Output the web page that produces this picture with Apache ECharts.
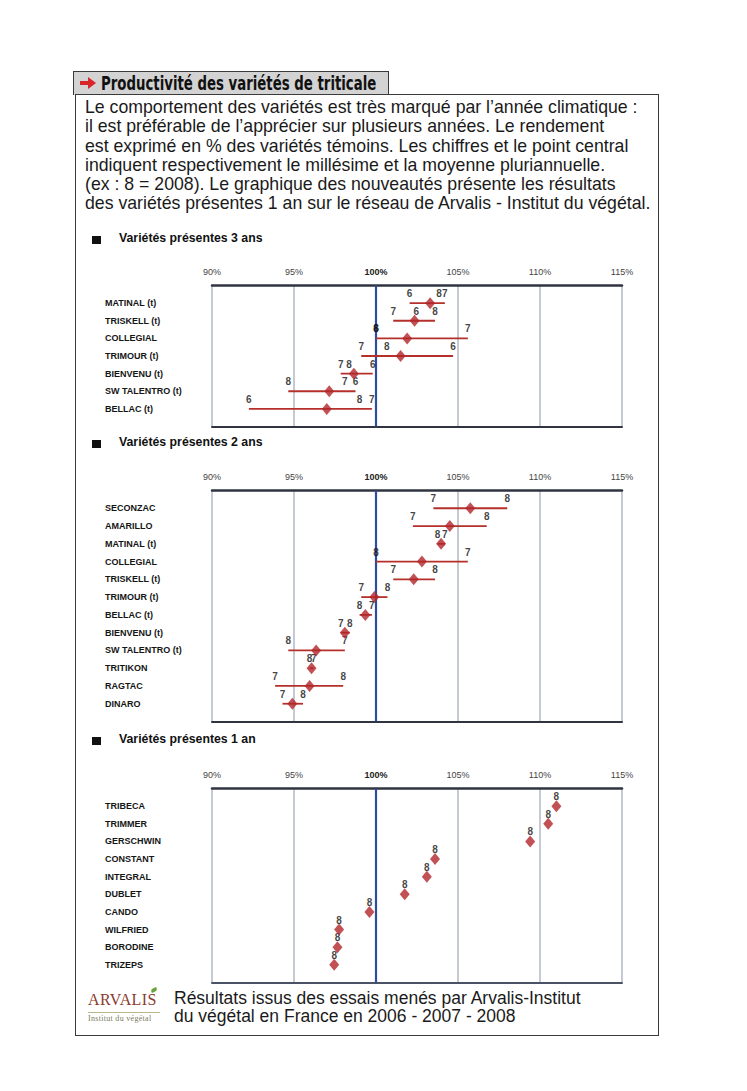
<!DOCTYPE html>
<html>
<head>
<meta charset="utf-8">
<script src="https://cdn.jsdelivr.net/npm/echarts@6/dist/echarts.min.js"></script>
<style>
  html, body { margin:0; padding:0; background:#fff; }
  #page { position:relative; width:747px; height:1091px; background:#fff; overflow:hidden; }
  #chart { position:absolute; left:0; top:0; width:747px; height:1091px; }
  .ov { position:absolute; white-space:nowrap; font-family:"Liberation Sans", Arial, Helvetica, sans-serif; color:#1a1a1a; }
  #box { position:absolute; left:75px; top:94px; width:584px; height:942px; border:1.5px solid #3a3a3a; box-sizing:border-box; }
  #tab { position:absolute; left:73px; top:71px; width:316px; height:24px; background:#d3d3d3; border:1.5px solid #3a3a3a; border-bottom:none; box-sizing:border-box; }
  #arrow { position:absolute; left:80px; top:77px; }
  #title { left:101px; top:71px; font-family:"Liberation Sans Narrow","DejaVu Sans Condensed","Liberation Sans",sans-serif; font-weight:bold; font-size:20px; line-height:24px; color:#111; transform-origin:0 50%; }
  #para { left:85px; top:98px; font-size:17.7px; line-height:19.3px; transform-origin:0 0; }
  .head { font-size:12.3px; font-weight:bold; color:#111; }
  .sq { position:absolute; width:9px; height:8px; background:#111; }
  #foot { left:174px; top:989px; font-size:17.5px; line-height:18px; transform-origin:0 0; }
  #logo { left:88px; top:991px; font-family:"Liberation Serif","DejaVu Serif",serif; font-size:16px; letter-spacing:0.4px; color:#8b3a2d; }
  #logo2 { left:88px; top:1014px; font-family:"Liberation Serif","DejaVu Serif",serif; font-size:8px; color:#7b7b62; letter-spacing:0.3px; }
  #logoline { position:absolute; left:88px; top:1012px; width:72px; height:1px; background:#b9b98a; }
  #leaf { position:absolute; left:151px; top:988px; width:6px; height:4px; background:#6aa33a; border-radius:60% 0 60% 0; transform:rotate(-20deg); }
</style>
</head>
<body>
<div id="page">
  <div id="chart"></div>
  <div id="tab"></div>
  <div id="box"></div>
  <svg id="arrow" width="16" height="12" viewBox="0 0 16 12"><rect x="0" y="4" width="9" height="4" fill="#d8262a"/><polygon points="8,0 16,6 8,12" fill="#d8262a"/></svg>
  <div id="title" class="ov">Productivité des variétés de triticale</div>
  <div id="para" class="ov">Le comportement des variétés est très marqué par l’année climatique :<br>il est préférable de l’apprécier sur plusieurs années. Le rendement<br>est exprimé en % des variétés témoins. Les chiffres et le point central<br>indiquent respectivement le millésime et la moyenne pluriannuelle.<br>(ex : 8 = 2008). Le graphique des nouveautés présente les résultats<br>des variétés présentes 1 an sur le réseau de Arvalis - Institut du végétal.</div>
  <div class="sq" style="left:92px;top:236px"></div>
  <div class="ov head" style="left:119px;top:231px">Variétés présentes 3 ans</div>
  <div class="sq" style="left:92px;top:440px"></div>
  <div class="ov head" style="left:119px;top:435px">Variétés présentes 2 ans</div>
  <div class="sq" style="left:92px;top:737px"></div>
  <div class="ov head" style="left:119px;top:732px">Variétés présentes 1 an</div>
  <div id="leaf"></div>
  <div id="logo" class="ov">ARVALIS</div>
  <div id="logoline"></div>
  <div id="logo2" class="ov">Institut du végétal</div>
  <div id="foot" class="ov">Résultats issus des essais menés par Arvalis-Institut<br>du végétal en France en 2006 - 2007 - 2008</div>
</div>
<script>
// ---------- DATA ----------
const ticks = [90, 95, 100, 105, 110, 115];

// Variétés présentes 3 ans (2006, 2007, 2008 + moyenne)
const cats3 = ['MATINAL (t)', 'TRISKELL (t)', 'COLLEGIAL', 'TRIMOUR (t)', 'BIENVENU (t)', 'SW TALENTRO (t)', 'BELLAC (t)'];
const y2006_3 = [102.05, 102.45, 100.0, 104.7, 99.8, 98.75, 92.25];
const y2007_3 = [104.2, 101.05, 105.6, 99.1, 97.85, 98.1, 99.75];
const y2008_3 = [103.85, 103.6, 100.0, 100.65, 98.35, 94.65, 99.0];
const mean_3  = [103.3, 102.35, 101.9, 101.5, 98.65, 97.15, 97.0];

// Variétés présentes 2 ans (2007, 2008 + moyenne)
const cats2 = ['SECONZAC', 'AMARILLO', 'MATINAL (t)', 'COLLEGIAL', 'TRISKELL (t)', 'TRIMOUR (t)', 'BELLAC (t)', 'BIENVENU (t)', 'SW TALENTRO (t)', 'TRITIKON', 'RAGTAC', 'DINARO'];
const y2007_2 = [103.5, 102.25, 104.2, 105.6, 101.05, 99.1, 99.75, 97.85, 98.1, 96.2, 93.85, 94.3];
const y2008_2 = [108.0, 106.75, 103.75, 100.0, 103.6, 100.7, 99.0, 98.4, 94.65, 95.95, 98.0, 95.55];
const mean_2  = [105.75, 104.5, 103.97, 102.8, 102.3, 99.9, 99.35, 98.1, 96.35, 96.07, 95.95, 94.9];

// Variétés présentes 1 an (2008)
const cats1 = ['TRIBECA', 'TRIMMER', 'GERSCHWIN', 'CONSTANT', 'INTEGRAL', 'DUBLET', 'CANDO', 'WILFRIED', 'BORODINE', 'TRIZEPS'];
const y2008_1 = [111.0, 110.5, 109.4, 103.6, 103.1, 101.75, 99.6, 97.75, 97.65, 97.45];
const mean_1  = [111.0, 110.5, 109.4, 103.6, 103.1, 101.75, 99.6, 97.75, 97.65, 97.45];

// ---------- CHART ----------
const FONT = 'Liberation Sans, Arial, Helvetica, sans-serif';
const RED = '#b5302b';
const DIAM = '#b1262a';

const panels = [
  { cats: cats3, years: [['6', y2006_3], ['7', y2007_3], ['8', y2008_3]], mean: mean_3, top: 285.5, height: 141, bottomColor: '#2f3440' },
  { cats: cats2, years: [['7', y2007_2], ['8', y2008_2]], mean: mean_2, top: 490.5, height: 231, bottomColor: '#2f3440' },
  { cats: cats1, years: [['8', y2008_1]], mean: mean_1, top: 788.5, height: 194, bottomColor: '#4a5266' }
];

const grid = [], xAxis = [], yAxis = [], series = [];
panels.forEach((p, g) => {
  grid.push({ left: 212, width: 410, top: p.top, height: p.height, containLabel: false });
  xAxis.push({
    type: 'value', gridIndex: g, position: 'top', min: ticks[0], max: ticks[ticks.length - 1], interval: 5,
    axisLine: { show: true, onZero: false, lineStyle: { color: '#2f3440', width: 2.5 } },
    axisTick: { show: false },
    axisLabel: {
      margin: 9, fontSize: 9, color: '#333', fontFamily: FONT,
      formatter: v => v === 100 ? '{b|100%}' : '{n|' + v + '%}',
      rich: { b: { fontWeight: 'bold', fontSize: 9, color: '#222', fontFamily: FONT }, n: { fontSize: 9, color: '#444', fontFamily: FONT } }
    },
    splitLine: { show: true, lineStyle: { color: '#b6bdcb', width: 1.6 } }
  });
  xAxis.push({
    type: 'value', gridIndex: g, position: 'bottom', min: ticks[0], max: ticks[ticks.length - 1], interval: 5,
    axisLine: { show: true, onZero: false, lineStyle: { color: p.bottomColor, width: 2 } },
    axisTick: { show: false }, axisLabel: { show: false }, splitLine: { show: false }
  });
  const n = p.cats.length;
  yAxis.push({
    type: 'value', gridIndex: g, inverse: true, min: -1, max: n, interval: 1,
    axisLine: { show: false }, axisTick: { show: false }, splitLine: { show: false },
    axisLabel: {
      align: 'left', margin: 107, fontSize: 9, fontWeight: 'bold', color: '#151515', fontFamily: FONT,
      formatter: v => (Number.isInteger(v) && v >= 0 && v < n) ? p.cats[v] : ''
    }
  });
  const xi = g * 2;
  // range bars (min to max of yearly values)
  const rangeData = p.cats.map((c, i) => {
    const vals = p.years.map(y => y[1][i]).filter(v => v != null);
    return [Math.min(...vals), Math.max(...vals), i];
  });
  series.push({
    type: 'custom', xAxisIndex: xi, yAxisIndex: g, z: 3, silent: true,
    data: p.years.length > 1 ? rangeData : [],
    encode: { x: [0, 1], y: 2 },
    renderItem: (params, api) => {
      const a = api.coord([api.value(0), api.value(2)]);
      const b = api.coord([api.value(1), api.value(2)]);
      return { type: 'line', shape: { x1: a[0], y1: a[1], x2: b[0], y2: b[1] }, style: { stroke: RED, lineWidth: 1.8 } };
    },
    markLine: {
      silent: true, symbol: 'none', label: { show: false }, z: 2,
      lineStyle: { color: '#2c4d9c', width: 2.2, type: 'solid' },
      data: [{ xAxis: 100 }]
    }
  });
  // year labels
  p.years.forEach(([lab, vals]) => {
    series.push({
      type: 'scatter', xAxisIndex: xi, yAxisIndex: g, z: 4, silent: true,
      symbol: 'circle', symbolSize: 1, itemStyle: { color: 'rgba(0,0,0,0)' },
      data: vals.map((v, i) => [v, i]),
      label: { show: true, position: 'top', distance: 4, formatter: lab, fontSize: 10, fontWeight: 'bold', color: '#111', fontFamily: FONT }
    });
  });
  // mean diamonds
  series.push({
    type: 'scatter', xAxisIndex: xi, yAxisIndex: g, z: 5, silent: true,
    symbol: 'diamond', symbolSize: [10, 12], itemStyle: { color: DIAM },
    data: p.mean.map((v, i) => [v, i])
  });
});

const chart = echarts.init(document.getElementById('chart'), null, { renderer: 'svg' });
chart.setOption({ animation: false, backgroundColor: 'transparent', grid, xAxis, yAxis, series });

// fit title width to the tab
(function () {
  const t = document.getElementById('title');
  const w = t.scrollWidth;
  t.style.transform = 'scaleX(' + (275 / w) + ')';
})();
</script>
</body>
</html>
